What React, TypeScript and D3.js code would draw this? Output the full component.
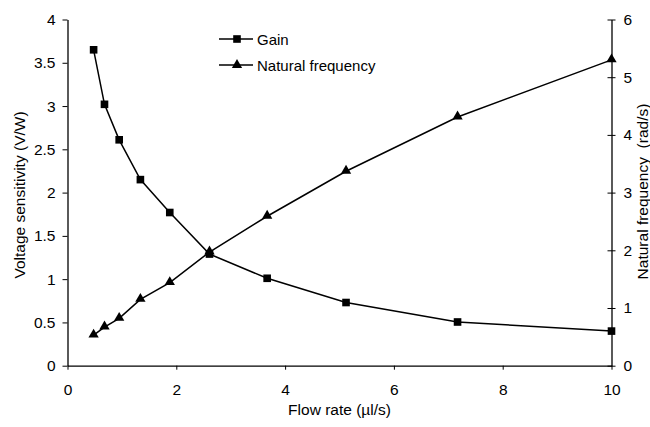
import React, { useEffect, useRef } from 'react';
import * as d3 from 'd3';

// flow rate (µl/s)
const flowRate = [0.48, 0.68, 0.95, 1.34, 1.88, 2.61, 3.67, 5.12, 7.17, 10];
// voltage sensitivity (V/W)
const gain = [3.65, 3.02, 2.61, 2.15, 1.77, 1.29, 1.01, 0.73, 0.505, 0.4];
// natural frequency (rad/s)
const natFreq = [0.53, 0.67, 0.82, 1.15, 1.44, 1.97, 2.59, 3.37, 4.31, 5.3];

const xTicks = [0, 2, 4, 6, 8, 10];
const leftTicks = [0, 0.5, 1, 1.5, 2, 2.5, 3, 3.5, 4];
const rightTicks = [0, 1, 2, 3, 4, 5, 6];

const App = () => {
    const svgRef = useRef<SVGSVGElement>(null);

    useEffect(() => {
        const width = 650;
        const height = 427;
        const margin = { top: 19.5, right: 38.5, bottom: 61.3, left: 67.5 };
        const w = width - margin.left - margin.right;
        const h = height - margin.top - margin.bottom;
        const font = '"Liberation Sans", Arial, sans-serif';

        const root = d3.select(svgRef.current);
        root.selectAll('*').remove();
        const svg = root.append('g')
            .attr('transform', `translate(${margin.left},${margin.top})`);

        const x = d3.scaleLinear().domain([0, 10]).range([0, w]);
        const yL = d3.scaleLinear().domain([0, 4]).range([h, 0]);
        const yR = d3.scaleLinear().domain([0, 6]).range([h, 0]);

        const styleAxis = (g: any) => {
            g.select('.domain').attr('stroke', '#000').attr('stroke-width', 1.3);
            g.selectAll('.tick line').attr('stroke', '#000').attr('stroke-width', 1);
            g.selectAll('.tick text')
                .attr('fill', '#000')
                .style('font-family', font)
                .style('font-size', '15.5px');
        };

        // x axis
        svg.append('g')
            .attr('transform', `translate(0,${h})`)
            .call(d3.axisBottom(x).tickValues(xTicks).tickSize(4).tickSizeOuter(0).tickPadding(14).tickFormat(d3.format('d')))
            .call(styleAxis);

        // left axis
        svg.append('g')
            .call(d3.axisLeft(yL).tickValues(leftTicks).tickSize(5).tickSizeOuter(0).tickPadding(7).tickFormat(d3.format('')))
            .call(styleAxis);

        // right axis, ticks cross the line
        const right = svg.append('g')
            .attr('transform', `translate(${w},0)`)
            .call(d3.axisRight(yR).tickValues(rightTicks).tickSize(4).tickSizeOuter(0).tickPadding(8).tickFormat(d3.format('d')))
            .call(styleAxis);
        right.selectAll('.tick line').attr('x1', -4);

        // lines
        const lineL = d3.line<number>().x((d, i) => x(flowRate[i])).y(d => yL(d));
        const lineR = d3.line<number>().x((d, i) => x(flowRate[i])).y(d => yR(d));

        svg.append('path').datum(gain)
            .attr('d', lineL).attr('fill', 'none').attr('stroke', '#000').attr('stroke-width', 1.5);
        svg.append('path').datum(natFreq)
            .attr('d', lineR).attr('fill', 'none').attr('stroke', '#000').attr('stroke-width', 1.5);

        const sq = d3.symbol().type(d3.symbolSquare).size(58);
        const tri = d3.symbol().type(d3.symbolTriangle).size(46);

        svg.selectAll('.sq').data(gain).enter().append('path')
            .attr('d', sq)
            .attr('transform', (d, i) => `translate(${x(flowRate[i])},${yL(d)})`)
            .attr('fill', '#000');
        svg.selectAll('.tri').data(natFreq).enter().append('path')
            .attr('d', tri)
            .attr('transform', (d, i) => `translate(${x(flowRate[i])},${yR(d) - 0.5})`)
            .attr('fill', '#000');

        // legend
        const legend = root.append('g').attr('transform', 'translate(219,39)');
        const items = [
            { label: 'Gain', sym: sq, dy: 0 },
            { label: 'Natural frequency', sym: tri, dy: 26 },
        ];
        items.forEach(it => {
            const g = legend.append('g').attr('transform', `translate(0,${it.dy})`);
            g.append('line').attr('x1', 0).attr('x2', 34).attr('y1', 0).attr('y2', 0)
                .attr('stroke', '#000').attr('stroke-width', 1.5);
            g.append('path').attr('d', it.sym).attr('transform', 'translate(18,0)').attr('fill', '#000');
            g.append('text').attr('x', 38).attr('y', 5.5)
                .style('font-family', font).style('font-size', '15px')
                .text(it.label);
        });

        // axis titles
        root.append('text')
            .attr('x', margin.left + w / 2)
            .attr('y', 414.5)
            .attr('text-anchor', 'middle')
            .style('font-family', font).style('font-size', '15.5px')
            .text('Flow rate (µl/s)');

        root.append('text')
            .attr('transform', 'translate(25,195) rotate(-90)')
            .attr('text-anchor', 'middle')
            .style('font-family', font).style('font-size', '15.5px')
            .text('Voltage sensitivity (V/W)');

        root.append('text')
            .attr('transform', 'translate(647.5,191.5) rotate(-90)')
            .attr('text-anchor', 'middle')
            .style('font-family', font).style('font-size', '15.5px')
            .style('white-space', 'pre')
            .text('Natural frequency  (rad/s)');
    }, []);

    return (
        <svg ref={svgRef} width={650} height={427}
            style={{ position: 'absolute', left: 0, top: 0, background: '#fff' }}></svg>
    );
};

export default App;
